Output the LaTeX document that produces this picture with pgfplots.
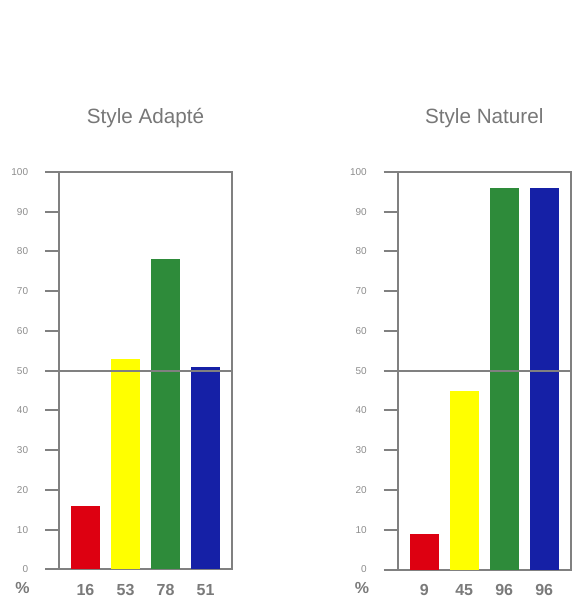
\documentclass[border=0pt]{standalone}
\usepackage{pgfplots}
\pgfplotsset{compat=1.18}
\usepackage{fontspec}
\setmainfont{Liberation Sans}

\definecolor{axisgray}{HTML}{808080}
\definecolor{ticktext}{HTML}{8C8C8C}
\definecolor{valtext}{HTML}{7A7A7A}
\definecolor{titletext}{HTML}{777777}
\definecolor{barred}{HTML}{DD0011}
\definecolor{baryellow}{HTML}{FFFF00}
\definecolor{bargreen}{HTML}{2E8B3A}
\definecolor{barblue}{HTML}{1520A6}

\pgfplotsset{
  panel/.style={
    scale only axis,
    width=129.75pt, height=298.125pt,
    xmin=-0.6625, xmax=3.6625,
    ymin=0, ymax=100,
    ytick={0,10,...,100},
    ytick pos=left,
    xtick={0,1,2,3},
    axis line style={axisgray, line width=1.5pt},
    every tick/.style={axisgray, line width=1.5pt},
    tick align=outside,
    major tick length=10.5pt,
    x tick style={draw=none},
    /pgf/number format/assume math mode=true,
    yticklabel style={font=\fontsize{7.5}{8}\selectfont, text=ticktext, anchor=east, inner sep=0pt, xshift=-12.5pt},
    xticklabel style={font=\bfseries\fontsize{12}{14}\selectfont, text=valtext, anchor=base, yshift=-8.8pt, inner sep=0pt},
    title style={font=\fontsize{15.5}{18}\selectfont, text=titletext, anchor=base, at={(0.5,1)}, yshift=30pt},
    ybar, bar width=0.725, bar shift=0pt,
    clip=false,
  },
}

\begin{document}
\begin{tikzpicture}
\useasboundingbox (0,0) rectangle (431.25pt,453.75pt);

% left panel
\begin{axis}[panel, at={(44.25pt,26.625pt)}, anchor=south west,
  title={Style Adapté}, xticklabels={16,53,78,51}]
  \addplot[fill=barred, draw=none] coordinates {(0,16)};
  \addplot[fill=baryellow, draw=none] coordinates {(1,53)};
  \addplot[fill=bargreen, draw=none] coordinates {(2,78)};
  \addplot[fill=barblue, draw=none] coordinates {(3,51)};
  \addplot[sharp plot, axisgray, line width=1.2pt] coordinates {(-0.6625,50) (3.6625,50)};
\end{axis}
\node[font=\bfseries\fontsize{12}{14}\selectfont, text=valtext, anchor=base, inner sep=0pt] at (16.9pt,9pt) {\%};

% right panel
\begin{axis}[panel, at={(298.3pt,26.625pt)}, anchor=south west,
  title={Style Naturel}, xticklabels={9,45,96,96}]
  \addplot[fill=barred, draw=none] coordinates {(0,9)};
  \addplot[fill=baryellow, draw=none] coordinates {(1,45)};
  \addplot[fill=bargreen, draw=none] coordinates {(2,96)};
  \addplot[fill=barblue, draw=none] coordinates {(3,96)};
  \addplot[sharp plot, axisgray, line width=1.2pt] coordinates {(-0.6625,50) (3.6625,50)};
\end{axis}
\node[font=\bfseries\fontsize{12}{14}\selectfont, text=valtext, anchor=base, inner sep=0pt] at (271.5pt,9pt) {\%};
\end{tikzpicture}
\end{document}
